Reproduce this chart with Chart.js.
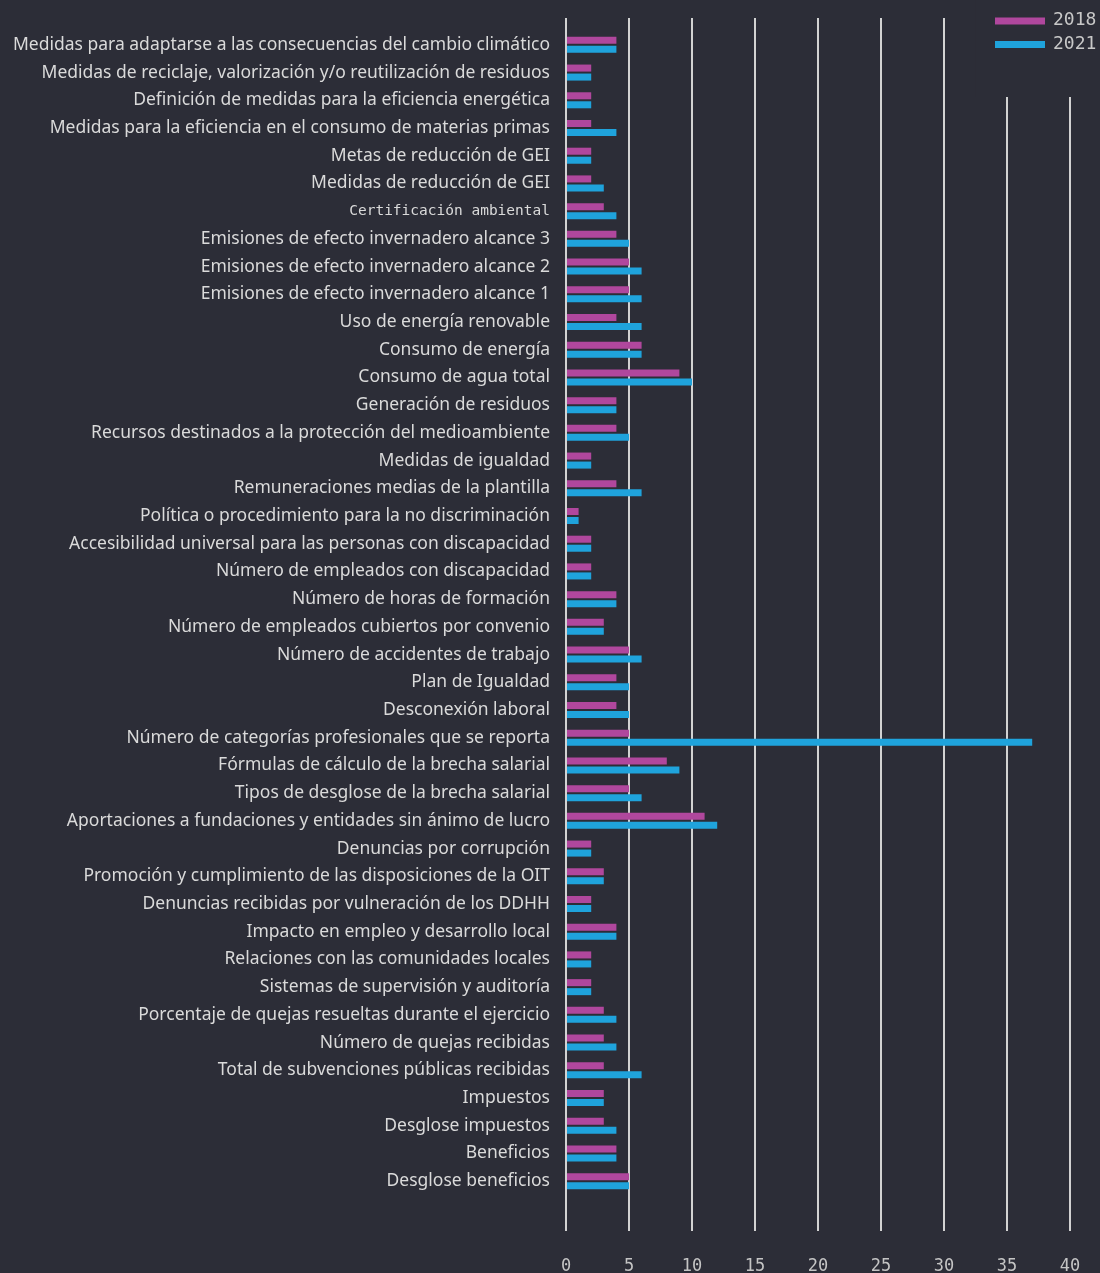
<!DOCTYPE html>
<html><head><meta charset="utf-8">
<script src="https://cdn.jsdelivr.net/npm/chart.js@4.4.0/dist/chart.umd.min.js"></script>
<style>
html,body{margin:0;padding:0;background:#2c2d37;}
#wrap{width:1100px;height:1273px;position:relative;}
</style></head><body>
<div id="wrap"><canvas id="c" width="1100" height="1273"></canvas></div>
<script>
const categories = [
  "Medidas para adaptarse a las consecuencias del cambio climático",
  "Medidas de reciclaje, valorización y/o reutilización de residuos",
  "Definición de medidas para la eficiencia energética",
  "Medidas para la eficiencia en el consumo de materias primas",
  "Metas de reducción de GEI",
  "Medidas de reducción de GEI",
  "Certificación ambiental",
  "Emisiones de efecto invernadero alcance 3",
  "Emisiones de efecto invernadero alcance 2",
  "Emisiones de efecto invernadero alcance 1",
  "Uso de energía renovable",
  "Consumo de energía",
  "Consumo de agua total",
  "Generación de residuos",
  "Recursos destinados a la protección del medioambiente",
  "Medidas de igualdad",
  "Remuneraciones medias de la plantilla",
  "Política o procedimiento para la no discriminación",
  "Accesibilidad universal para las personas con discapacidad",
  "Número de empleados con discapacidad",
  "Número de horas de formación",
  "Número de empleados cubiertos por convenio",
  "Número de accidentes de trabajo",
  "Plan de Igualdad",
  "Desconexión laboral",
  "Número de categorías profesionales que se reporta",
  "Fórmulas de cálculo de la brecha salarial",
  "Tipos de desglose de la brecha salarial",
  "Aportaciones a fundaciones y entidades sin ánimo de lucro",
  "Denuncias por corrupción",
  "Promoción y cumplimiento de las disposiciones de la OIT",
  "Denuncias recibidas por vulneración de los DDHH",
  "Impacto en empleo y desarrollo local",
  "Relaciones con las comunidades locales",
  "Sistemas de supervisión y auditoría",
  "Porcentaje de quejas resueltas durante el ejercicio",
  "Número de quejas recibidas",
  "Total de subvenciones públicas recibidas",
  "Impuestos",
  "Desglose impuestos",
  "Beneficios",
  "Desglose beneficios"
];
const seriesNames = ["2018", "2021"];
const values2018 = [4,2,2,2,2,2,3,4,5,5,4,6,9,4,4,2,4,1,2,2,4,3,5,4,4,5,8,5,11,2,3,2,4,2,2,3,3,3,3,3,4,5];
const values2021 = [4,2,2,4,2,3,4,5,6,6,6,6,10,4,5,2,6,1,2,2,4,3,6,5,5,37,9,6,12,2,3,2,4,2,2,4,4,6,3,4,4,5];
const xMin = 0, xMax = 40, xStep = 5;

const BG = '#2c2d37';
const GRID = '#d2d2d2';
const COL2018 = '#b0479d';
const COL2021 = '#1fa3dc';
const monoIdx = categories.indexOf("Certificación ambiental");

const bgPlugin = {
  id: 'bg',
  beforeDraw(chart) {
    const ctx = chart.ctx;
    ctx.save();
    ctx.fillStyle = BG;
    ctx.fillRect(0, 0, chart.width, chart.height);
    ctx.restore();
  },
  afterDraw(chart) {
    const ctx = chart.ctx;
    const xs = chart.scales.x;
    ctx.save();
    const coverLeft = xs.getPixelForValue(32.5);
    ctx.fillStyle = BG;
    ctx.fillRect(coverLeft, 0, chart.width - coverLeft, 97);
    chart.data.datasets.forEach((ds, i) => {
      const y = 21 + i * 23.5;
      ctx.fillStyle = ds.backgroundColor;
      ctx.fillRect(995, y - 3.5, 50, 7);
      ctx.fillStyle = '#c8c8c8';
      ctx.font = '18px "DejaVu Sans Mono"';
      ctx.textBaseline = 'middle';
      ctx.textAlign = 'left';
      ctx.fillText(ds.label, 1053, y - 0.5);
    });
    ctx.restore();
  }
};

new Chart(document.getElementById('c'), {
  type: 'bar',
  data: {
    labels: categories,
    datasets: [
      { label: seriesNames[0], data: values2018, backgroundColor: COL2018, categoryPercentage: 0.65, barPercentage: 0.78 },
      { label: seriesNames[1], data: values2021, backgroundColor: COL2021, categoryPercentage: 0.65, barPercentage: 0.78 }
    ]
  },
  options: {
    indexAxis: 'y',
    responsive: false,
    animation: false,
    devicePixelRatio: 1,
    layout: { padding: { top: 18, right: 30, left: 0, bottom: 0 } },
    plugins: { legend: { display: false }, tooltip: { enabled: false } },
    scales: {
      x: {
        type: 'linear', position: 'bottom', min: xMin, max: xMax,
        ticks: { stepSize: xStep, color: '#c4c4c4', font: { family: 'DejaVu Sans Mono', size: 17 }, padding: 25 },
        grid: { color: GRID, lineWidth: 2, tickLength: 36, drawTicks: true },
        border: { display: false },
        afterFit(s) { s.height = 78; s.paddingLeft = 0; s.paddingRight = 0; }
      },
      x2: {
        type: 'linear', position: 'top', min: xMin, max: xMax,
        ticks: { display: false, stepSize: xStep },
        grid: { color: GRID, lineWidth: 2, tickLength: 13, drawOnChartArea: false },
        border: { display: false },
        afterFit(s) { s.height = 13; s.paddingLeft = 0; s.paddingRight = 0; }
      },
      y: {
        type: 'category', offset: true,
        grid: { display: false, drawTicks: false },
        border: { display: false },
        ticks: {
          autoSkip: false, color: '#dadada', padding: 16,
          font: (c) => c.index === monoIdx ? { family: 'DejaVu Sans Mono', size: 14.5 } : { family: 'Noto Sans', size: 17.5 }
        },
        afterFit(s) { s.width = 566; }
      }
    }
  },
  plugins: [bgPlugin]
});
</script>
</body></html>
